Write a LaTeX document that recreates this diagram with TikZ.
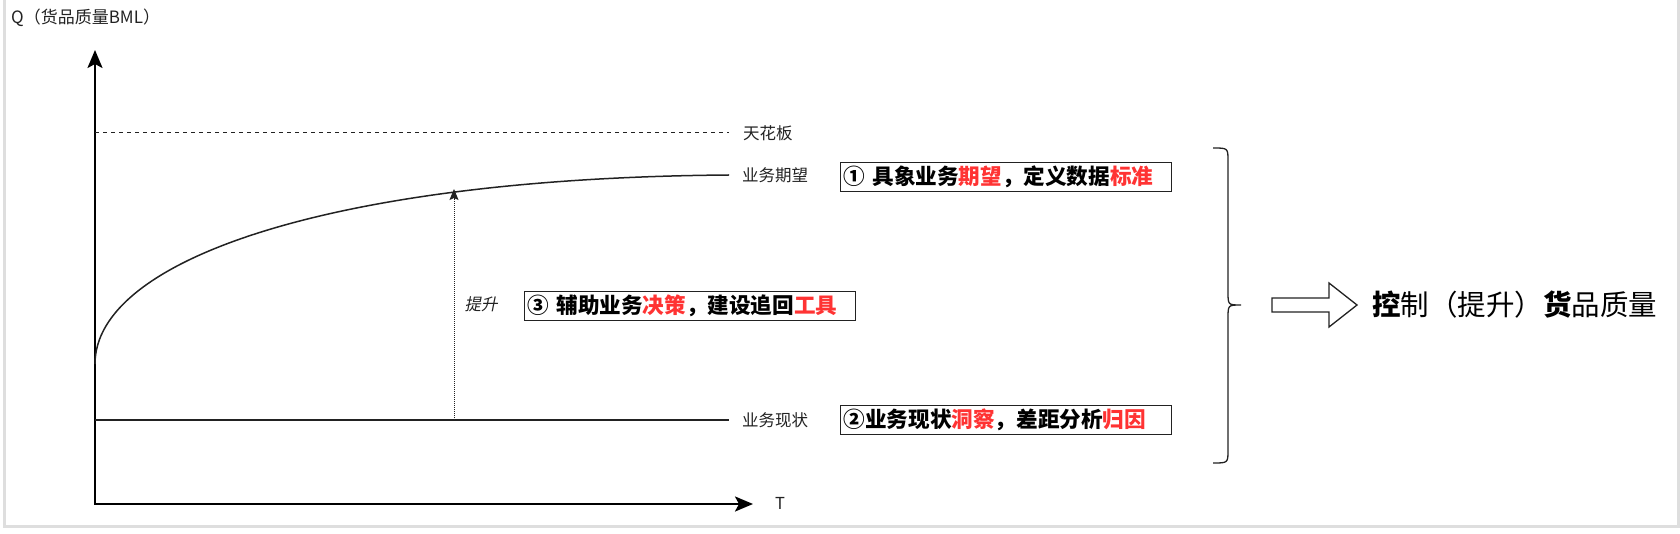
\documentclass[tikz,border=0pt]{standalone}
\usepackage{fontspec}
\setmainfont{Noto Sans CJK SC}
\newfontfamily\slantcjk[FakeSlant=0.2]{Noto Sans CJK SC}
\usetikzlibrary{arrows.meta}
\definecolor{hl}{RGB}{255,51,51}
\definecolor{ink}{RGB}{34,34,34}
\definecolor{framegray}{RGB}{222,222,222}
\begin{document}
\begin{tikzpicture}[x=1pt,y=-1pt,
  lab/.style={font=\fontsize{16.5}{18}\selectfont, text=ink, inner sep=0pt},
  stmt/.style={draw=ink, line width=1.4pt, font=\fontsize{21.6}{24}\bfseries\selectfont,
    minimum height=29pt, text width=325pt, inner xsep=3pt, inner ysep=0pt, align=left, anchor=north west},
  axis/.style={line width=2.5pt, line join=miter, {Stealth[length=18pt,width=15pt,inset=4pt]}-{Stealth[length=18pt,width=15pt,inset=4pt]}},
  frameline/.style={draw=framegray, line width=3pt},
]
\useasboundingbox (0,0) rectangle (1680,534);
% frame
\draw[frameline] (4,0) -- (4,526) -- (1678.5,526) -- (1678.5,0);
% axes
\coordinate (ytop) at (95,50);
\coordinate (O) at (95,504);
\coordinate (xend) at (753,504);
\draw[axis] (ytop) -- (O) -- (xend);
\node[lab, font=\fontsize{17}{18}\selectfont, anchor=west] (qlab) at (11,18) {Q（货品质量BML）};
\node[lab, anchor=center] (tlab) at (780,503) {T};
% ceiling
\coordinate (c0) at (95,133);
\coordinate (c1) at (729,133);
\draw[ink, line width=1pt, dash pattern=on 4pt off 4pt] (c0) -- (c1);
\node[lab, anchor=west] (ceil) at (743,133) {天花板};
% expectation curve
\coordinate (e0) at (95,364);
\coordinate (e1) at (729,175);
\draw[ink, line width=1.5pt] (e0) .. controls (95,260) and (330,178) .. (e1);
\node[lab, anchor=west] (expl) at (742,175) {业务期望};
% current line
\coordinate (s0) at (95,420);
\coordinate (s1) at (729,420);
\draw[ink, line width=1.3pt] (s0) -- (s1);
\node[lab, anchor=west] (curl) at (742,420) {业务现状};
% lift arrow
\coordinate (l0) at (454,420);
\coordinate (l1) at (454,189);
\draw[ink, line width=1pt, dash pattern=on 1pt off 1pt, -{Stealth[length=11pt,width=9pt,inset=2pt]}] (l0) -- (l1);
\node[lab, anchor=center] (liftl) at (481,304) {\slantcjk 提升};
% statement boxes
\node[stmt] (b1) at (840,162) {① 具象业务\textcolor{hl}{期望}，定义数据\textcolor{hl}{标准}};
\node[stmt] (b3) at (524,291) {③ 辅助业务\textcolor{hl}{决策}，建设追回\textcolor{hl}{工具}};
\node[stmt] (b2) at (840,405) {②业务现状\textcolor{hl}{洞察}，差距分析\textcolor{hl}{归因}};
% brace
\draw[ink, line width=1.3pt] (1213,148) .. controls (1228,148) .. (1228,161) -- (1228,292)
  .. controls (1228,305) .. (1241,305)
  .. controls (1228,305) .. (1228,318) -- (1228,450)
  .. controls (1228,463) .. (1213,463);
% block arrow
\draw[ink, line width=1.3pt, line join=miter] (1272,298) -- (1329,298) -- (1329,283) -- (1357,305)
  -- (1329,327) -- (1329,312) -- (1272,312) -- cycle;
\node[font=\fontsize{28.5}{32}\selectfont, text=black, inner sep=0pt, anchor=west] (goal) at (1372,305)
  {\textbf{控}制（提升）\textbf{货}品质量};
\end{tikzpicture}
\end{document}
